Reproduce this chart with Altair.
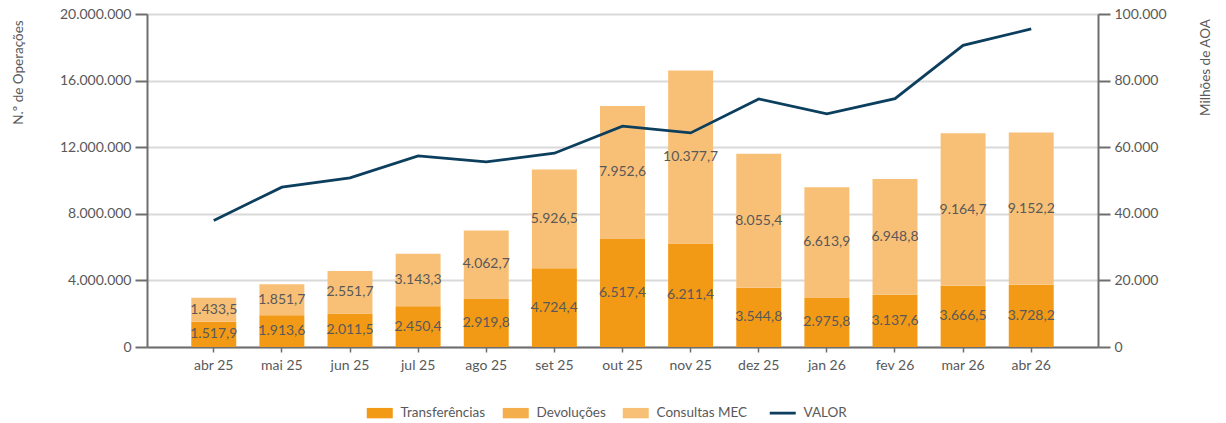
import altair as alt
import pandas as pd

months = ["abr 25", "mai 25", "jun 25", "jul 25", "ago 25", "set 25", "out 25",
          "nov 25", "dez 25", "jan 26", "fev 26", "mar 26", "abr 26"]
transferencias = [1517.9, 1913.6, 2011.5, 2450.4, 2919.8, 4724.4, 6517.4,
                  6211.4, 3544.8, 2975.8, 3137.6, 3666.5, 3728.2]
devolucoes = [4, 5, 5, 6, 7, 9, 11, 11, 9, 8, 8, 9, 9]
consultas_mec = [1433.5, 1851.7, 2551.7, 3143.3, 4062.7, 5926.5, 7952.6,
                 10377.7, 8055.4, 6613.9, 6948.8, 9164.7, 9152.2]
valor = [38000, 48000, 50800, 57400, 55600, 58200, 66300,
         64300, 74500, 70000, 74600, 90600, 95500]

series_names = ["Transferências", "Devoluções", "Consultas MEC", "VALOR"]
series_colors = ["#F29A16", "#F5AE4C", "#F8C077", "#0C3E5E"]
left_ticks = [0, 4000000, 8000000, 12000000, 16000000, 20000000]
right_ticks = [0, 20000, 40000, 60000, 80000, 100000]

rows = []
for i, m in enumerate(months):
    for k, vals in enumerate([transferencias, devolucoes, consultas_mec]):
        rows.append({"month": m, "series": series_names[k], "order": k, "value": vals[i]})
bars_df = pd.DataFrame(rows)
line_df = pd.DataFrame({"month": months, "valor": valor, "series": ["VALOR"] * len(months)})

FONT = "Lato"
TXT = "#595959"
AX = "#6e6e6e"
GRID = "#d9d9d9"

x = alt.X("month:N", sort=months, title=None,
          scale=alt.Scale(paddingInner=0.34, paddingOuter=0.65),
          axis=alt.Axis(labelAngle=0, tickSize=5, tickColor=AX, tickWidth=1.5,
                        domainColor=AX, domainWidth=2, labelFont=FONT, labelFontSize=14,
                        labelColor=TXT, labelPadding=6, grid=False))

color = alt.Color(
    "series:N",
    scale=alt.Scale(domain=series_names, range=series_colors),
    legend=alt.Legend(
        title=None, orient="none", legendX=226, legendY=392, direction="horizontal",
        symbolSize=676, labelFont=FONT, labelFontSize=13.5, labelColor=TXT,
        labelOffset=14, columnPadding=16, padding=0,
        symbolType=alt.ExprRef("datum.value === 'VALOR' ? 'stroke' : 'M-1,-0.4H1V0.4H-1Z'"),
        symbolFillColor=alt.ExprRef("scale('color', datum.value)"),
        symbolStrokeColor=alt.ExprRef("scale('color', datum.value)"),
        symbolStrokeWidth=alt.ExprRef("datum.value === 'VALOR' ? 2.8 : 0"),
        symbolOpacity=1,
    ),
)

left_axis = alt.Axis(values=left_ticks, format=",.0f", title="N.º de Operações",
                     titleX=-129, titleY=58, titleAngle=270, titleAlign="center",
                     titleBaseline="middle", titleFont=FONT, titleFontSize=13.5,
                     titleFontWeight="normal", titleColor=TXT, labelFont=FONT,
                     labelFontSize=14, labelColor=TXT, labelPadding=4, tickSize=12,
                     tickWidth=2, tickColor=AX, domainColor=AX, domainWidth=2,
                     grid=True, gridColor=GRID, gridWidth=2)

right_axis = alt.Axis(orient="right", values=right_ticks, format=",.0f", title="Milhões de AOA",
                      titleX=107, titleY=53, titleAngle=270, titleAlign="center",
                      titleBaseline="middle", titleFont=FONT, titleFontSize=13.5,
                      titleFontWeight="normal", titleColor=TXT, labelFont=FONT,
                      labelFontSize=14, labelColor=TXT, labelPadding=4, tickSize=12,
                      tickWidth=2, tickColor=AX, domainColor=AX, domainWidth=2, grid=False)

yscale = alt.Scale(domain=[0, 20000000])

base = (alt.Chart(bars_df)
        .transform_calculate(ops="datum.value * 1000")
        .transform_stack(stack="ops", groupby=["month"], as_=["y0", "y1"],
                         sort=[alt.SortField("order", order="ascending")])
        .transform_calculate(mid="(datum.y0 + datum.y1) / 2"))

bars = base.mark_bar().encode(
    x=x,
    y=alt.Y("y1:Q", scale=yscale, axis=left_axis),
    y2="y0:Q",
    color=color,
)

text = base.transform_filter("datum.series !== 'Devoluções'").mark_text(
    font=FONT, fontSize=14, color=TXT, align="center", baseline="middle"
).encode(
    x=x,
    y=alt.Y("mid:Q", scale=yscale, axis=left_axis),
    text=alt.Text("value:Q", format=",.1f"),
)

line = alt.Chart(line_df).mark_line(strokeWidth=2.8).encode(
    x=x,
    y=alt.Y("valor:Q", scale=alt.Scale(domain=[0, 100000]), axis=right_axis),
    color=color,
)

left = alt.layer(bars, text)
chart = (alt.layer(left, line)
         .resolve_scale(y="independent")
         .properties(width=951, height=333,
                     padding={"left": 147, "top": 14, "right": 128, "bottom": 76},
                     autosize=alt.AutoSizeParams(type="none"),
                     background="white")
         .configure_view(stroke=None)
         .configure(locale=alt.Locale(number=alt.NumberLocale(
             decimal=",", thousands=".", grouping=[3], currency=["", ""]))))

chart.save("out.html", embed_options={"renderer": "svg", "actions": False})
